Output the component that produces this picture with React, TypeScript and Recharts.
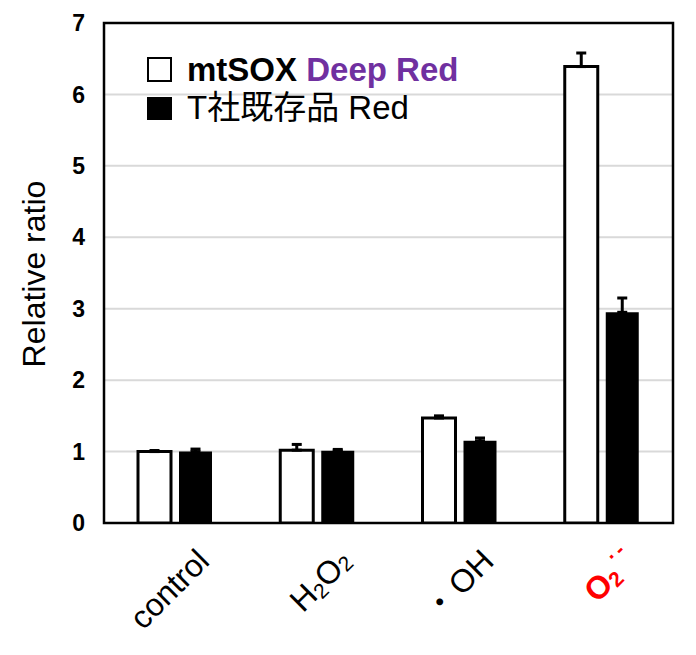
import React from 'react';
import { BarChart, Bar, XAxis, YAxis, CartesianGrid, ErrorBar, Legend, ReferenceArea, Label } from 'recharts';

const categories = ['control', 'H2O2', '・OH', 'O2·-'];
const seriesNames = ['mtSOX Deep Red', 'T社既存品 Red'];
const mtsoxValues = [1.0, 1.02, 1.47, 6.39];
const mtsoxErrors = [0.015, 0.08, 0.03, 0.19];
const tRedValues = [1.0, 1.01, 1.15, 2.95];
const tRedErrors = [0.035, 0.02, 0.04, 0.2];
const yTicks = [0, 1, 2, 3, 4, 5, 6, 7];
const yTitle = 'Relative ratio';

const FONT = "'Liberation Sans', Arial, 'Noto Sans CJK JP', sans-serif";

const data = categories.map((c, i) => ({
  name: c,
  mt: mtsoxValues[i],
  mtErr: [0, mtsoxErrors[i]],
  tr: tRedValues[i],
  trErr: [0, tRedErrors[i]],
}));

const XTick = (props: any) => {
  const { x, y, payload } = props;
  const v = payload.value as string;
  const ax = x + 36;
  const ay = y + 40;
  let content: React.ReactNode = v;
  let fill = '#000';
  let weight: any = 'normal';
  if (v === 'H2O2') {
    content = (
      <>
        <tspan>H</tspan>
        <tspan fontSize={21} dy={4}>2</tspan>
        <tspan dy={-4}>O</tspan>
        <tspan fontSize={21} dy={2}>2</tspan>
      </>
    );
  } else if (v === '・OH') {
    content = (
      <>
        <tspan>・</tspan>
        <tspan dx={3}>OH</tspan>
      </>
    );
  } else if (v === 'O2·-') {
    fill = '#FF0000';
    weight = 'bold';
    content = (
      <>
        <tspan>O</tspan>
        <tspan fontSize={21} dy={3}>2</tspan>
        <tspan fontSize={21} dy={-19} dx={4}>·</tspan>
        <tspan fontSize={21} dx={3}>-</tspan>
      </>
    );
  }
  return (
    <g transform={`translate(${ax},${ay}) rotate(-45)`}>
      <text x={0} y={0} textAnchor="end" fontSize={32} fontFamily={FONT} fill={fill} fontWeight={weight}>
        {content}
      </text>
    </g>
  );
};

const LegendContent = () => (
  <svg width={680} height={130} style={{ overflow: 'visible' }}>
    <rect x={140} y={50} width={23} height={23} fill="#fff" stroke="#000" strokeWidth={2} />
    <text x={179} y={73} fontSize={33} fontWeight="bold" fontFamily={FONT} fill="#000">
      {seriesNames[0].split(' ')[0]}{' '}
      <tspan fill="#7030A0">{seriesNames[0].split(' ').slice(1).join(' ')}</tspan>
    </text>
    <rect x={139} y={89} width={25} height={23} fill="#000" />
    <text x={179} y={111} fontSize={33} fontFamily={FONT} fill="#000">
      {seriesNames[1]}
    </text>
  </svg>
);

const YLabel = (props: any) => {
  const vb = props.viewBox || { x: 0, y: 15, width: 96, height: 500 };
  const cx = 37;
  const cy = vb.y + vb.height / 2 + 1;
  return (
    <text
      x={cx}
      y={cy}
      transform={`rotate(-90, ${cx}, ${cy})`}
      textAnchor="middle"
      fontSize={32}
      fontFamily={FONT}
      fill="#000"
    >
      {yTitle}
    </text>
  );
};

export default function App() {
  return (
    <div style={{ width: 680, height: 639, background: '#fff' }}>
      <BarChart
        width={680}
        height={639}
        data={data}
        margin={{ top: 15, right: 15, left: 0, bottom: 24 }}
        barGap={8}
      >
        <CartesianGrid vertical={false} stroke="#d9d9d9" strokeWidth={2} />
        <XAxis
          dataKey="name"
          tick={<XTick />}
          tickLine={false}
          axisLine={false}
          tickSize={0}
          tickMargin={0}
          height={100}
          interval={0}
        />
        <YAxis
          domain={[0, 7]}
          ticks={yTicks}
          width={96}
          tickLine={false}
          axisLine={false}
          tickSize={0}
          tickMargin={19}
          tick={{ fontSize: 23, fontWeight: 'bold', fill: '#000', fontFamily: FONT }}
          allowDataOverflow
        >
          <Label content={<YLabel />} />
        </YAxis>
        <ReferenceArea y1={0} y2={7} fill="none" stroke="#000" strokeWidth={2.5} ifOverflow="visible" />
        <Bar dataKey="mt" name={seriesNames[0]} fill="#fff" stroke="#000" strokeWidth={3} barSize={33} isAnimationActive={false}>
          <ErrorBar dataKey="mtErr" width={5} strokeWidth={3} stroke="#000" direction="y" />
        </Bar>
        <Bar dataKey="tr" name={seriesNames[1]} fill="#000" barSize={33} isAnimationActive={false}>
          <ErrorBar dataKey="trErr" width={5} strokeWidth={3} stroke="#000" direction="y" />
        </Bar>
        <Legend
          layout="horizontal"
          verticalAlign="middle"
          align="center"
          wrapperStyle={{ left: 0, top: 0, width: 680, height: 130 }}
          content={<LegendContent />}
        />
      </BarChart>
    </div>
  );
}
